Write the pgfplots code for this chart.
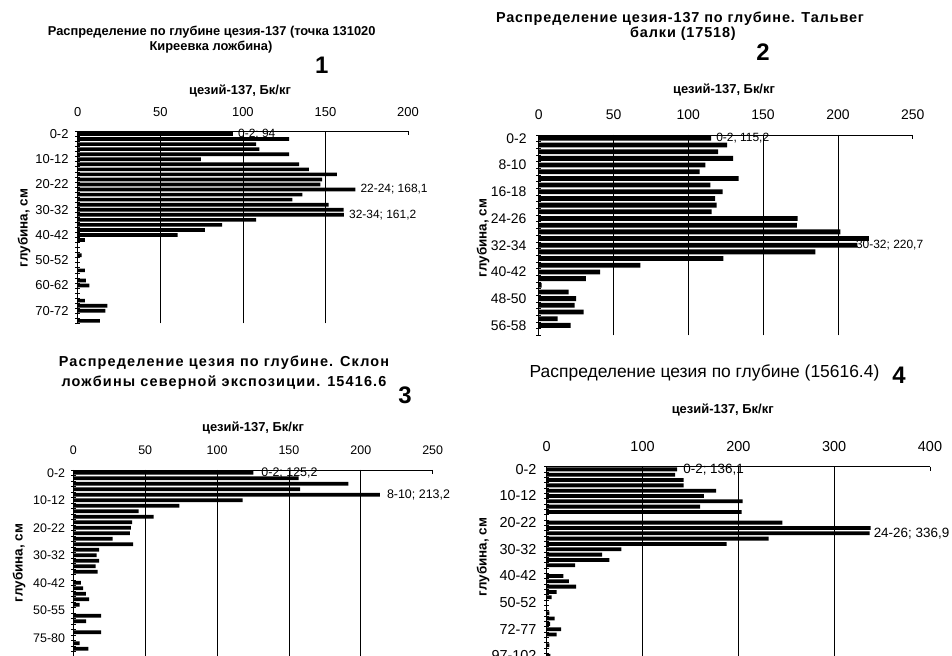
\documentclass[border=0pt]{standalone}
\usepackage{fontspec}
\setmainfont{Liberation Sans}
\newfontfamily\spacedA[LetterSpace=6]{Liberation Sans}
\newfontfamily\spacedB[LetterSpace=8]{Liberation Sans}
\usepackage{pgfplots}
\usepackage{pgfplotstable}
\pgfplotsset{compat=1.18}

\pgfplotstableread{
i v
0 94
1 128
2 108
3 110
4 128
5 74.6
6 134
7 140
8 157
9 148
10 147
11 168.1
12 136
13 130
14 152
15 161
16 161.2
17 108
18 87.5
19 77
20 60.5
21 4.4
22 0
23 0
24 2.4
25 0
26 0
27 4.4
28 0
29 5
30 7
31 0
32 0
33 4.4
34 18
35 16.7
36 0
37 13.5
}\dataA

\pgfplotstableread{
i v
0 115.2
1 126
2 120
3 130
4 111.4
5 107.6
6 133.7
7 114.8
8 123
9 117.9
10 119
11 115.6
12 173
13 172.5
14 201.6
15 220.7
16 213
17 185
18 123.4
19 68
20 41
21 31.6
22 2
23 20
24 25
25 24
26 30
27 12.7
28 21.4
29 0
}\dataB

\pgfplotstableread{
i v
0 125.2
1 156.8
2 191.3
3 157.7
4 213.2
5 117.8
6 73.7
7 45.5
8 55.9
9 41
10 40
11 39.4
12 27.4
13 41.7
14 17.9
15 16.2
16 17.9
17 15.5
18 17
19 0
20 5.3
21 6.8
22 8.8
23 11
24 4.4
25 0
26 19.3
27 9
28 0
29 19.3
30 0
31 4.4
32 10.5
}\dataC

\pgfplotstableread{
i v
0 136.1
1 134
2 143
3 143
4 176.7
5 164
6 204.5
7 160
8 203.5
9 0
10 246
11 338
12 336.9
13 231.7
14 187.8
15 78
16 57.7
17 65.5
18 29.6
19 0
20 17.4
21 23
22 30.6
23 10.4
24 5.2
25 0
26 0
27 2.8
28 8.3
29 3.5
30 15
31 10.4
32 0
33 2.8
34 0
35 3.8
}\dataD

\pgfplotsset{
  prof/.style={
    scale only axis,
    xbar, bar width=0.72,
    xmin=0,
    clip=false,
    axis x line*=top, axis y line*=left,
    xtick align=inside,
    ytick align=center,
    major tick length=4bp, minor tick length=5bp,
    major y tick style={draw=none},
    xminorgrids,
    minor grid style={black, line width=0.7bp},
    axis line style={black, line width=0.7bp},
    every tick/.append style={black, line width=0.7bp},
    /pgf/number format/assume math mode=true,
    xticklabel style={inner sep=0pt, anchor=south},
    yticklabel style={inner sep=0pt, anchor=east},
    xticklabel shift=15bp,
  },
  barsty/.style={fill=black, draw=none},
}

\begin{document}
\begin{tikzpicture}[x=1bp, y=1bp]
\useasboundingbox (0,0) rectangle (952,656);

% ---------------- Panel 1 ----------------
\node[font=\fontsize{12.9}{13}\selectfont\bfseries] at (211.7,624.3) {Распределение по глубине цезия-137 (точка 131020};
\node[font=\fontsize{12.9}{13}\selectfont\bfseries] at (211,609.3) {Киреевка ложбина)};
\node[font=\fontsize{24}{24}\selectfont\bfseries] at (321.7,591) {1};
\node[font=\fontsize{13}{13}\selectfont\bfseries] at (240,565.3) {цезий-137, Бк/кг};
\node[font=\fontsize{13.5}{13.5}\selectfont\bfseries, rotate=90] at (24,428) {глубина, см};
\begin{axis}[prof,
  at={(77.7bp,524.5bp)}, anchor=north west,
  width=330.3bp, height=191.9bp,
  xmax=200, ymin=-37.5, ymax=0.5,
  xtick={0,50,...,200}, minor xtick={50,100,150},
  ytick={0,-5,...,-35},
  yticklabels={0-2,10-12,20-22,30-32,40-42,50-52,60-62,70-72},
  minor ytick={0.5,-0.5,...,-37.5},
  tick label style={font=\fontsize{13}{13}\selectfont},
  yticklabel shift=7bp,
]
\addplot[barsty] table[x=v, y expr=-\thisrow{i}] {\dataA};
\node[anchor=west, inner sep=0pt, xshift=5bp, font=\fontsize{12}{12}\selectfont] at (axis cs:94,0) {0-2; 94};
\node[anchor=west, inner sep=0pt, xshift=5bp, font=\fontsize{12}{12}\selectfont] at (axis cs:168.1,-11) {22-24; 168,1};
\node[anchor=west, inner sep=0pt, xshift=5bp, font=\fontsize{12}{12}\selectfont] at (axis cs:161.2,-16) {32-34; 161,2};
\end{axis}

% ---------------- Panel 2 ----------------
\node[font=\fontsize{14.5}{15}\selectfont\spacedA\bfseries] at (680,637.7) {Распределение цезия-137 по глубине. Тальвег};
\node[font=\fontsize{14.5}{15}\selectfont\spacedA\bfseries] at (683,622) {балки (17518)};
\node[font=\fontsize{24}{24}\selectfont\bfseries] at (763,604) {2};
\node[font=\fontsize{13}{13}\selectfont\bfseries] at (724,566) {цезий-137, Бк/кг};
\node[font=\fontsize{13.5}{13.5}\selectfont\bfseries, rotate=90] at (483,418) {глубина, см};
\begin{axis}[prof,
  at={(538.7bp,521bp)}, anchor=north west,
  width=374bp, height=200.4bp,
  xmax=250, ymin=-29.5, ymax=0.5,
  xtick={0,50,...,250}, minor xtick={50,100,150,200},
  ytick={0,-4,...,-28},
  yticklabels={0-2,8-10,16-18,24-26,32-34,40-42,48-50,56-58},
  minor ytick={0.5,-0.5,...,-29.5},
  tick label style={font=\fontsize{14}{14}\selectfont},
  yticklabel shift=10bp,
]
\addplot[barsty] table[x=v, y expr=-\thisrow{i}] {\dataB};
\node[anchor=west, inner sep=0pt, xshift=5bp, font=\fontsize{12}{12}\selectfont] at (axis cs:115.2,0) {0-2, 115,2};
\node[anchor=west, inner sep=0pt, xshift=0bp, font=\fontsize{12}{12}\selectfont] at (axis cs:212,-16) {30-32; 220,7};
\end{axis}

% ---------------- Panel 3 ----------------
\node[font=\fontsize{14.5}{15}\selectfont\spacedB\bfseries] at (224,293) {Распределение цезия по глубине. Склон};
\node[font=\fontsize{14.5}{15}\selectfont\spacedB\bfseries] at (224,273) {ложбины северной экспозиции. 15416.6};
\node[font=\fontsize{24}{24}\selectfont\bfseries] at (405,261) {3};
\node[font=\fontsize{13}{13}\selectfont\bfseries] at (253,228) {цезий-137, Бк/кг};
\node[font=\fontsize{13.5}{13.5}\selectfont\bfseries, rotate=90] at (19,93) {глубина, см};
\begin{axis}[prof,
  at={(73.3bp,186bp)}, anchor=north west,
  width=359.4bp, height=198bp,
  xmax=250, ymin=-35.5, ymax=0.5,
  xtick={0,50,...,250}, minor xtick={50,100,150,200},
  ytick={0,-5,...,-30},
  yticklabels={0-2,10-12,20-22,30-32,40-42,50-55,75-80},
  minor ytick={0.5,-0.5,...,-35.5},
  tick label style={font=\fontsize{12.5}{12.5}\selectfont},
  yticklabel shift=6bp,
]
\addplot[barsty] table[x=v, y expr=-\thisrow{i}] {\dataC};
\node[anchor=west, inner sep=0pt, xshift=8bp, font=\fontsize{12.5}{12.5}\selectfont] at (axis cs:125.2,0) {0-2; 125,2};
\node[anchor=west, inner sep=0pt, xshift=7bp, font=\fontsize{12.5}{12.5}\selectfont] at (axis cs:213.2,-4) {8-10; 213,2};
\end{axis}

% ---------------- Panel 4 ----------------
\node[font=\fontsize{17.5}{18}\selectfont] at (704.5,283) {Распределение цезия по глубине (15616.4)};
\node[font=\fontsize{24}{24}\selectfont\bfseries] at (899,281) {4};
\node[font=\fontsize{13}{13}\selectfont\bfseries] at (722.7,246) {цезий-137, Бк/кг};
\node[font=\fontsize{13.5}{13.5}\selectfont\bfseries, rotate=90] at (483,99) {глубина, см};
\begin{axis}[prof,
  at={(546.7bp,189.3bp)}, anchor=north west,
  width=383.3bp, height=202.5bp,
  xmax=400, ymin=-37.5, ymax=0.5,
  xtick={0,100,...,400}, minor xtick={100,200,300},
  ytick={0,-5,...,-35},
  yticklabels={0-2,10-12,20-22,30-32,40-42,50-52,72-77,97-102},
  minor ytick={0.5,-0.5,...,-37.5},
  tick label style={font=\fontsize{14.5}{14.5}\selectfont},
  yticklabel shift=8bp,
]
\addplot[barsty] table[x=v, y expr=-\thisrow{i}] {\dataD};
\node[anchor=west, inner sep=0pt, xshift=6bp, font=\fontsize{13.5}{13.5}\selectfont] at (axis cs:136.1,0) {0-2; 136,1};
\node[anchor=west, inner sep=0pt, xshift=4bp, font=\fontsize{13.5}{13.5}\selectfont] at (axis cs:336.9,-12) {24-26; 336,9};
\end{axis}
\end{tikzpicture}
\end{document}
